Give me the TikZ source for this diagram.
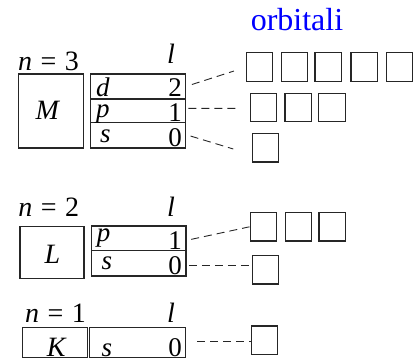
\documentclass[tikz,border=0pt]{standalone}
\usepackage{fontspec}
\setmainfont{LiberationSerif}[Extension=.ttf,UprightFont=*-Regular,ItalicFont=*-Italic,BoldFont=*-Bold,BoldItalicFont=*-BoldItalic]
\begin{document}
\begin{tikzpicture}[x=1pt,y=-1pt,
  every node/.style={font=\fontsize{28}{30}\selectfont},
  shell/.style={draw=black!85,line width=1.2pt,inner sep=0pt},
  row/.style={draw=black!85,line width=1.2pt,inner sep=0pt,minimum width=94.6pt},
  orb/.style={draw=black!85,line width=1.2pt,inner sep=0pt,minimum width=26.5pt,minimum height=28.5pt},
  conn/.style={draw=black!85,line width=0.9pt,dash pattern=on 8pt off 5pt},
  lab/.style={inner sep=0pt,anchor=base},
  labw/.style={inner sep=0pt,anchor=base west},
  labe/.style={inner sep=0pt,anchor=base east},
  rlab/.style={inner sep=0pt,font=\fontsize{27}{29}\selectfont}]
\useasboundingbox (0,0) rectangle (416,362);

% title
\node[lab,text=blue,font=\fontsize{32}{34}\selectfont] (orbt) at (297,30) {orbitali};

% ---------- n = 3 ----------
\node[labw] (n3) at (18,70) {\textit{n}\hspace{0.3em}=\hspace{0.3em}3};
\node[lab] (l3) at (171,63.3) {\textit{l}};
\node[shell,minimum width=64.6pt,minimum height=74pt] (M) at (51,111) {};
\node[lab] (Mt) at (48,119.3) {\textit{M}};
\node[row,minimum height=25pt] (Md) at (138,86.5) {};
\node[row,minimum height=23.7pt] (Mp) at (138,110.85) {};
\node[row,minimum height=25.3pt] (Ms) at (138,135.35) {};
\node[rlab,anchor=base west] (Mdl) at (96,96.5) {\textit{d}};
\node[rlab,anchor=base east] (Mdn) at (182,96.5) {2};
\node[rlab,anchor=base west] (Mpl) at (96,117) {\textit{p}};
\node[rlab,anchor=base east] (Mpn) at (182,121) {1};
\node[rlab,anchor=base west] (Msl) at (100,142.7) {\textit{s}};
\node[rlab,anchor=base east] (Msn) at (182,146.7) {0};

\node[orb] (Md1) at (259.35,66.85) {};
\node[orb] (Md2) at (294.5,66.85) {};
\node[orb] (Md3) at (328.3,66.85) {};
\node[orb] (Md4) at (364.3,66.85) {};
\node[orb] (Md5) at (399.35,66.85) {};
\node[orb] (Mp1) at (263.5,107.5) {};
\node[orb] (Mp2) at (298.15,107.5) {};
\node[orb] (Mp3) at (332,107.5) {};
\node[orb] (Ms1) at (265.5,147.8) {};

\coordinate (eMd) at (234,71);
\coordinate (eMp) at (235.7,108.3);
\coordinate (eMs) at (233.3,149);
\draw[conn] ([xshift=6pt,yshift=2pt]Md.east) -- (eMd);
\draw[conn] ([xshift=2.4pt,yshift=2.5pt]Mp.east) -- (eMp);
\draw[conn] ([xshift=4.7pt,yshift=-0.7pt]Ms.east) -- (eMs);

% ---------- n = 2 ----------
\node[labw] (n2) at (18.3,216.7) {\textit{n}\hspace{0.3em}=\hspace{0.3em}2};
\node[lab] (l2) at (171,216) {\textit{l}};
\node[shell,minimum width=64pt,minimum height=52pt] (L) at (52,252.7) {};
\node[lab] (Lt) at (52.5,263.3) {\textit{L}};
\node[row,minimum height=24.7pt] (Lp) at (138.65,238.35) {};
\node[row,minimum height=25.3pt] (Ls) at (138.65,263.35) {};
\node[rlab,anchor=base west] (Lpl) at (96.7,241) {\textit{p}};
\node[rlab,anchor=base east] (Lpn) at (182,249) {1};
\node[rlab,anchor=base west] (Lsl) at (101.5,269) {\textit{s}};
\node[rlab,anchor=base east] (Lsn) at (182,274) {0};

\node[orb] (Lp1) at (263.35,226.8) {};
\node[orb] (Lp2) at (298.35,226.8) {};
\node[orb] (Lp3) at (332.15,226.8) {};
\node[orb] (Ls1) at (265.5,269.65) {};

\coordinate (sLp) at ([xshift=4.7pt,yshift=-1pt]Lp.east);
\coordinate (sLs) at ([xshift=2.4pt,yshift=-1.6pt]Ls.east);
\draw[conn] (sLp) -- (Lp1.west);
\draw[conn] (sLs) -- (Ls1.west |- sLs);

% ---------- n = 1 ----------
\node[labw] (n1) at (25,322.7) {\textit{n}\hspace{0.3em}=\hspace{0.3em}1};
\node[lab] (l1) at (171,322.7) {\textit{l}};
\node[shell,minimum width=64.6pt,minimum height=30pt] (K) at (55,342.3) {};
\node[lab] (Kt) at (56.7,356.7) {\textit{K}};
\node[row,minimum width=96pt,minimum height=30pt] (Ks) at (137.3,342.3) {};
\node[rlab,anchor=base west] (Ksl) at (101.5,356.7) {\textit{s}};
\node[rlab,anchor=base east] (Ksn) at (182,356.7) {0};

\node[orb] (Ks1) at (264.35,340.2) {};
\coordinate (sKs) at ([xshift=11.4pt,yshift=0.6pt]Ks.east);
\draw[conn] (sKs) -- (Ks1.west |- sKs);
\end{tikzpicture}
\end{document}
